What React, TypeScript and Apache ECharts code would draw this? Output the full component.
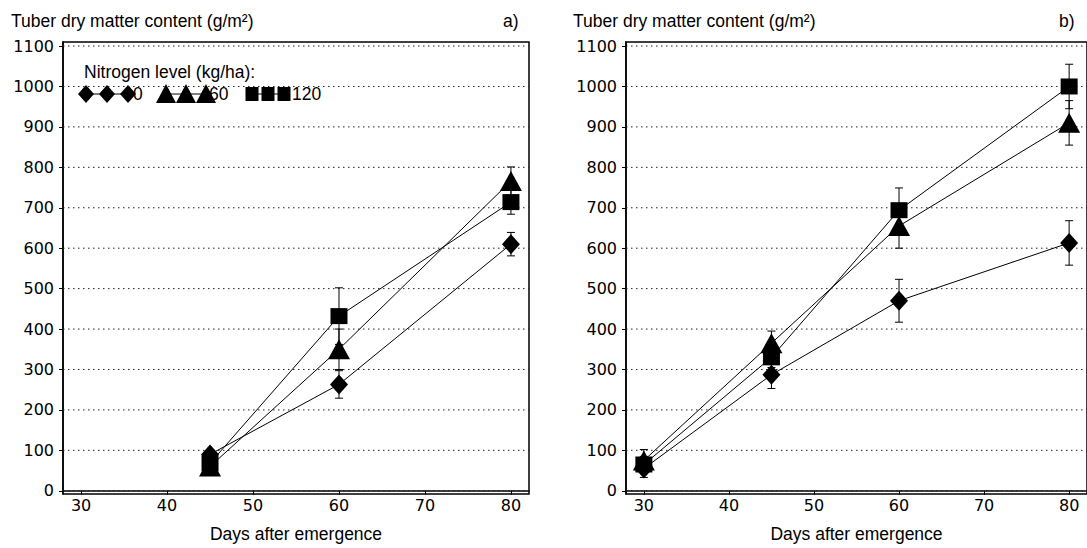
import React, { useEffect, useRef } from 'react';
import * as echarts from 'echarts';

// Panel a) data
const daysA = [45, 60, 80];
const n0A = [90, 263, 610];
const n0AErr = [0, 34, 29];
const n60A = [60, 350, 766];
const n60AErr = [0, 50, 35];
const n120A = [68, 432, 714];
const n120AErr = [0, 70, 30];

// Panel b) data
const daysB = [30, 45, 60, 80];
const n0B = [55, 287, 470, 613];
const n0BErr = [22, 34, 53, 55];
const n60B = [75, 365, 655, 910];
const n60BErr = [27, 30, 55, 55];
const n120B = [65, 330, 694, 1000];
const n120BErr = [20, 25, 55, 55];

const xTicks = [30, 40, 50, 60, 70, 80];
const yTicks = [0, 100, 200, 300, 400, 500, 600, 700, 800, 900, 1000, 1100];
const X_MIN = 27.9;
const X_MAX = 82.1;
const Y_MIN = -8;
const Y_MAX = 1110;

const yTitle = 'Tuber dry matter content (g/m²)';
const xTitle = 'Days after emergence';
const legendTitle = 'Nitrogen level (kg/ha):';
const levelLabels = ['0', '60', '120'];

const TICK_FONT = 'DejaVu Sans';
const TEXT_FONT = 'Liberation Sans, Arial, sans-serif';

const pairs = (xs: number[], ys: number[]) => xs.map((x, i) => [x, ys[i]]);
const errData = (xs: number[], ys: number[], es: number[]) =>
  xs.map((x, i) => [x, ys[i] - es[i], ys[i] + es[i], es[i]]).filter((d) => d[3] > 0);

const errRender = (params: any, api: any) => {
  const x = api.value(0);
  const pLo = api.coord([x, api.value(1)]);
  const pHi = api.coord([x, api.value(2)]);
  const w = 4;
  const style = { stroke: '#000', lineWidth: 1 };
  return {
    type: 'group',
    children: [
      { type: 'line', shape: { x1: pLo[0], y1: pLo[1], x2: pHi[0], y2: pHi[1] }, style },
      { type: 'line', shape: { x1: pLo[0] - w, y1: pLo[1], x2: pLo[0] + w, y2: pLo[1] }, style },
      { type: 'line', shape: { x1: pHi[0] - w, y1: pHi[1], x2: pHi[0] + w, y2: pHi[1] }, style },
    ],
  };
};

const gridRender = (params: any, api: any) => {
  const cs = params.coordSys;
  const y = api.coord([X_MIN, api.value(1)])[1];
  return {
    type: 'line',
    shape: { x1: cs.x, y1: y, x2: cs.x + cs.width, y2: y },
    style: { stroke: '#222', lineWidth: 1, lineDash: [1.5, 3.5] },
  };
};

const symbols = [
  { symbol: 'diamond', size: [18, 20] },
  { symbol: 'triangle', size: [22, 20] },
  { symbol: 'rect', size: [17, 16] },
];

const plainNum = (v: number) => String(v);

function makeXAxis(gridIndex: number) {
  return {
    type: 'value',
    gridIndex,
    min: X_MIN,
    max: X_MAX,
    name: xTitle,
    nameLocation: 'middle',
    nameGap: 31,
    nameTextStyle: { color: '#000', fontFamily: TEXT_FONT, fontSize: 17.5 },
    axisLine: { show: true, lineStyle: { color: '#000', width: 1.5 } },
    axisTick: { show: true, length: 4, lineStyle: { color: '#000' }, customValues: xTicks },
    axisLabel: { color: '#000', fontFamily: TICK_FONT, fontSize: 16, margin: 3, customValues: xTicks, formatter: plainNum },
    splitLine: { show: false },
  };
}

function makeYAxis(gridIndex: number) {
  return {
    type: 'value',
    gridIndex,
    min: Y_MIN,
    max: Y_MAX,
    axisLine: { show: true, lineStyle: { color: '#000', width: 1.5 } },
    axisTick: { show: true, length: 4, lineStyle: { color: '#000' }, customValues: yTicks },
    axisLabel: { color: '#000', fontFamily: TICK_FONT, fontSize: 16, margin: 9, customValues: yTicks, formatter: plainNum },
    splitLine: { show: false },
  };
}

function panelSeries(idx: number, days: number[], sets: number[][], errs: number[][]) {
  const out: any[] = [];
  out.push({
    type: 'custom',
    xAxisIndex: idx,
    yAxisIndex: idx,
    z: 1,
    silent: true,
    renderItem: gridRender,
    data: yTicks.map((v) => [X_MIN, v]),
    encode: { x: 0, y: 1 },
  });
  sets.forEach((vals, k) => {
    out.push({
      type: 'custom',
      xAxisIndex: idx,
      yAxisIndex: idx,
      z: 2,
      renderItem: errRender,
      data: errData(days, vals, errs[k]),
      encode: { x: 0, y: [1, 2] },
    });
    out.push({
      type: 'line',
      xAxisIndex: idx,
      yAxisIndex: idx,
      z: 3,
      data: pairs(days, vals),
      symbol: symbols[k].symbol,
      symbolSize: symbols[k].size,
      showSymbol: true,
      itemStyle: { color: '#000' },
      lineStyle: { color: '#000', width: 1 },
    });
  });
  return out;
}

function legendGraphics() {
  const rowY = 94;
  const els: any[] = [];
  els.push({
    type: 'text',
    left: 84,
    top: 63,
    style: { text: legendTitle, fontFamily: TEXT_FONT, fontSize: 17.5, fill: '#000' },
  });
  const groups = [
    { xs: [86, 107, 128], textX: 133 },
    { xs: [166, 186, 206], textX: 209 },
    { xs: [252, 268, 284], textX: 292 },
  ];
  groups.forEach((g, k) => {
    els.push({
      type: 'line',
      shape: { x1: g.xs[0], y1: rowY, x2: g.xs[2], y2: rowY },
      style: { stroke: '#000', lineWidth: 1 },
    });
    g.xs.forEach((cx) => {
      if (k === 0) {
        els.push({
          type: 'polygon',
          shape: { points: [[cx, rowY - 9], [cx + 8, rowY], [cx, rowY + 9], [cx - 8, rowY]] },
          style: { fill: '#000' },
        });
      } else if (k === 1) {
        els.push({
          type: 'polygon',
          shape: { points: [[cx, rowY - 10], [cx + 10, rowY + 9], [cx - 10, rowY + 9]] },
          style: { fill: '#000' },
        });
      } else {
        els.push({
          type: 'rect',
          shape: { x: cx - 6.5, y: rowY - 7, width: 13, height: 14 },
          style: { fill: '#000' },
        });
      }
    });
    els.push({
      type: 'text',
      x: g.textX,
      y: rowY,
      style: {
        text: levelLabels[k],
        fontFamily: TEXT_FONT,
        fontSize: 17.5,
        fill: '#000',
        verticalAlign: 'middle',
      },
    });
  });
  return els;
}

export default function App() {
  const ref = useRef<HTMLDivElement>(null);
  useEffect(() => {
    const chart = echarts.init(ref.current!, undefined, { renderer: 'svg' });
    const option: any = {
      animation: false,
      backgroundColor: '#fff',
      grid: [
        { left: 63, top: 42, width: 466, height: 457, show: true, borderColor: '#000', borderWidth: 1.5, backgroundColor: 'transparent' },
        { left: 626, top: 42, width: 466, height: 457, show: true, borderColor: '#000', borderWidth: 1.5, backgroundColor: 'transparent' },
      ],
      xAxis: [makeXAxis(0), makeXAxis(1)],
      yAxis: [makeYAxis(0), makeYAxis(1)],
      series: [
        ...panelSeries(0, daysA, [n0A, n60A, n120A], [n0AErr, n60AErr, n120AErr]),
        ...panelSeries(1, daysB, [n0B, n60B, n120B], [n0BErr, n60BErr, n120BErr]),
      ],
      graphic: [
        {
          type: 'text',
          left: 11,
          top: 12,
          style: { text: yTitle, fontFamily: TEXT_FONT, fontSize: 17.5, fill: '#000' },
        },
        {
          type: 'text',
          left: 503,
          top: 12,
          style: { text: 'a)', fontFamily: TEXT_FONT, fontSize: 17.5, fill: '#000' },
        },
        {
          type: 'text',
          left: 573,
          top: 12,
          style: { text: yTitle, fontFamily: TEXT_FONT, fontSize: 17.5, fill: '#000' },
        },
        {
          type: 'text',
          left: 1059,
          top: 12,
          style: { text: 'b)', fontFamily: TEXT_FONT, fontSize: 17.5, fill: '#000' },
        },
        ...legendGraphics(),
      ],
    };
    chart.setOption(option);
    return () => chart.dispose();
  }, []);
  return (
    <div
      ref={ref}
      style={{ position: 'fixed', left: 0, top: 0, width: 1087, height: 548, background: '#fff' }}
    />
  );
}
